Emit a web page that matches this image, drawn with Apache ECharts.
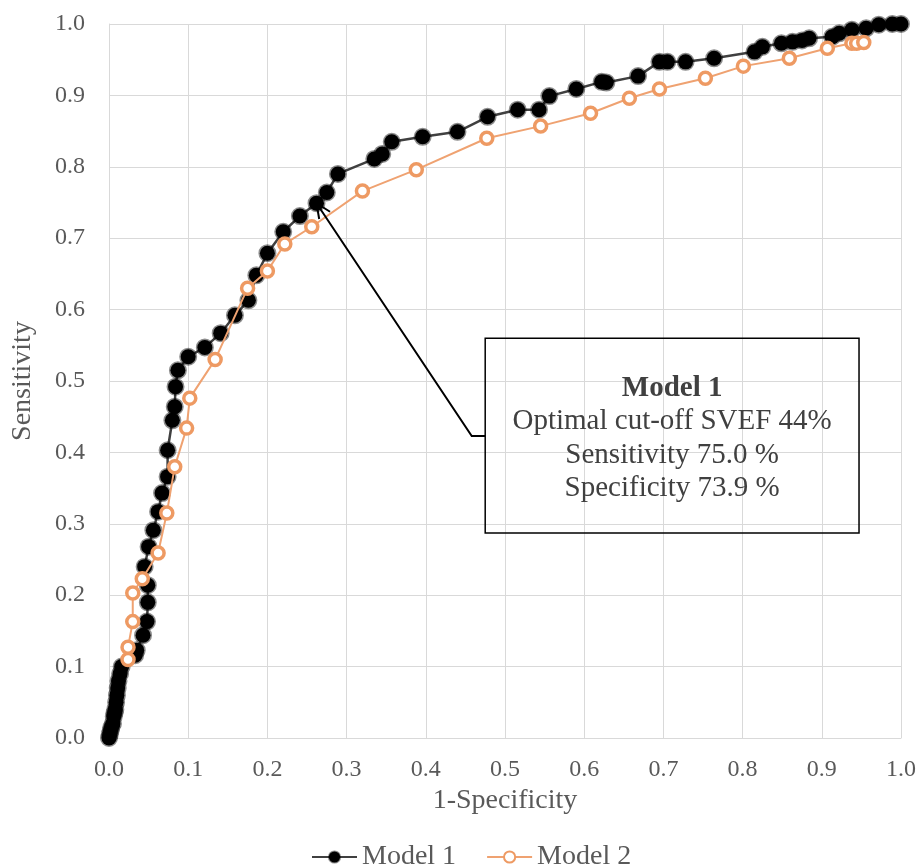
<!DOCTYPE html>
<html>
<head>
<meta charset="utf-8">
<script src="https://cdn.jsdelivr.net/npm/echarts@6/dist/echarts.min.js"></script>
<style>
  html, body { margin: 0; padding: 0; background: #fff; }
  #chart { width: 919px; height: 866px; }
</style>
</head>
<body>
<div id="chart"></div>
<script>
// ROC points: [1-specificity, sensitivity]
const model1 = [
  [0.0, 0.0], [0.001, 0.005], [0.002, 0.01], [0.003, 0.015], [0.005, 0.02],
  [0.006, 0.03], [0.007, 0.035], [0.008, 0.04], [0.009, 0.05], [0.01, 0.06],
  [0.011, 0.07], [0.012, 0.08], [0.014, 0.09], [0.016, 0.1], [0.033, 0.116],
  [0.035, 0.123], [0.043, 0.144], [0.048, 0.163], [0.049, 0.19], [0.049, 0.214],
  [0.045, 0.24], [0.05, 0.268], [0.056, 0.291], [0.062, 0.317], [0.067, 0.343],
  [0.074, 0.366], [0.074, 0.403], [0.08, 0.445], [0.083, 0.464], [0.084, 0.492],
  [0.087, 0.515], [0.1, 0.534], [0.121, 0.547], [0.141, 0.567], [0.159, 0.592],
  [0.176, 0.613], [0.186, 0.648], [0.2, 0.679], [0.22, 0.709], [0.241, 0.731],
  [0.262, 0.749], [0.275, 0.764], [0.289, 0.79], [0.335, 0.811], [0.345, 0.818],
  [0.357, 0.835], [0.396, 0.842], [0.44, 0.849], [0.478, 0.87], [0.516, 0.88],
  [0.543, 0.88], [0.556, 0.899], [0.59, 0.909], [0.622, 0.919], [0.628, 0.918],
  [0.668, 0.927], [0.695, 0.947], [0.705, 0.947], [0.728, 0.947], [0.764, 0.952],
  [0.815, 0.961], [0.825, 0.968], [0.849, 0.973], [0.863, 0.975], [0.875, 0.977],
  [0.884, 0.98], [0.913, 0.982], [0.922, 0.987], [0.938, 0.992], [0.956, 0.994],
  [0.972, 0.999], [0.989, 1.0], [1.0, 1.0]
];
const model2 = [
  [0.024, 0.11], [0.024, 0.127], [0.03, 0.163], [0.03, 0.203], [0.042, 0.223],
  [0.062, 0.259], [0.073, 0.315], [0.083, 0.38], [0.098, 0.434], [0.102, 0.476],
  [0.134, 0.53], [0.175, 0.63], [0.2, 0.654], [0.222, 0.692], [0.256, 0.716],
  [0.32, 0.766], [0.388, 0.796], [0.477, 0.84], [0.545, 0.857], [0.608, 0.875],
  [0.657, 0.896], [0.695, 0.909], [0.753, 0.924], [0.801, 0.941], [0.859, 0.952],
  [0.907, 0.966], [0.938, 0.973], [0.944, 0.973], [0.953, 0.974]
];
const seriesNames = ['Model 1', 'Model 2'];
const boxLines = ['Model 1', 'Optimal cut-off SVEF 44%', 'Sensitivity 75.0 %', 'Specificity 73.9 %'];
// annotation anchors in data space
const cutPoint = [0.262, 0.749];
const elbow = [0.458, 0.423];
const boxCorners = [[0.475, 0.56], [0.947, 0.287]];

const FONT = 'Liberation Serif';
const chart = echarts.init(document.getElementById('chart'));

const axisCommon = {
  type: 'value',
  min: 0,
  max: 1,
  interval: 0.1,
  nameLocation: 'middle',
  nameTextStyle: { fontFamily: FONT, fontSize: 28, color: '#595959' },
  axisLabel: {
    fontFamily: FONT, fontSize: 24, color: '#595959',
    formatter: v => v.toFixed(1)
  },
  axisTick: { show: false },
  axisLine: { show: true, lineStyle: { color: '#d9d9d9', width: 1 } },
  splitLine: { show: true, lineStyle: { color: '#d9d9d9', width: 1 } }
};

chart.setOption({
  animation: false,
  grid: { left: 109, right: 17, top: 24, bottom: 128 },
  xAxis: Object.assign({}, axisCommon, {
    name: '1-Specificity', nameGap: 48,
    axisLabel: Object.assign({}, axisCommon.axisLabel, { margin: 20 })
  }),
  yAxis: Object.assign({}, axisCommon, {
    name: 'Sensitivity', nameGap: 72,
    axisLabel: Object.assign({}, axisCommon.axisLabel, { margin: 24 })
  }),
  legend: {
    top: 838,
    left: 306,
    itemWidth: 45,
    itemHeight: 14,
    itemGap: 30,
    textStyle: { fontFamily: FONT, fontSize: 28, color: '#595959' },
    data: seriesNames
  },
  series: [
    {
      name: seriesNames[0],
      type: 'line',
      data: model1,
      symbol: 'circle',
      symbolSize: 15,
      lineStyle: { color: '#404040', width: 2.5 },
      itemStyle: { color: '#000', borderColor: 'rgba(0,0,0,0.45)', borderWidth: 3 },
      z: 2
    },
    {
      name: seriesNames[1],
      type: 'line',
      data: model2,
      symbol: 'circle',
      symbolSize: 12,
      lineStyle: { color: '#EFA271', width: 2 },
      itemStyle: { color: '#fff', borderColor: '#EE9A63', borderWidth: 3.5 },
      z: 3
    }
  ]
});

// annotation: arrow from the box to the cut-off point, and the text box
function px(p) { return chart.convertToPixel({ gridIndex: 0 }, p); }
const tip = px(cutPoint);
const mid = px(elbow);
const b0 = px(boxCorners[0]);
const b1 = px(boxCorners[1]);
const ang = Math.atan2(mid[1] - tip[1], mid[0] - tip[0]);
const headLen = 16, headSpread = 0.42;
const h1 = [tip[0] + headLen * Math.cos(ang - headSpread), tip[1] + headLen * Math.sin(ang - headSpread)];
const h2 = [tip[0] + headLen * Math.cos(ang + headSpread), tip[1] + headLen * Math.sin(ang + headSpread)];
const cx = (b0[0] + b1[0]) / 2;
const lineStep = 33.5;
const firstY = b0[1] + 50;

chart.setOption({
  graphic: [
    {
      type: 'polyline', z: 10,
      shape: { points: [[b0[0], mid[1]], mid, tip] },
      style: { stroke: '#000', lineWidth: 2, fill: null }
    },
    {
      type: 'polyline', z: 10,
      shape: { points: [h1, tip, h2] },
      style: { stroke: '#000', lineWidth: 2, fill: null }
    },
    {
      type: 'rect', z: 10,
      shape: { x: b0[0], y: b0[1], width: b1[0] - b0[0], height: b1[1] - b0[1] },
      style: { fill: null, stroke: '#000', lineWidth: 1.5 }
    }
  ].concat(boxLines.map((t, i) => ({
    type: 'text', z: 11,
    x: cx, y: firstY + i * lineStep,
    style: {
      text: t, fontFamily: FONT, fontSize: 29,
      fontWeight: i === 0 ? 'bold' : 'normal',
      fill: '#404040', align: 'center', verticalAlign: 'middle'
    }
  })))
});
</script>
</body>
</html>
